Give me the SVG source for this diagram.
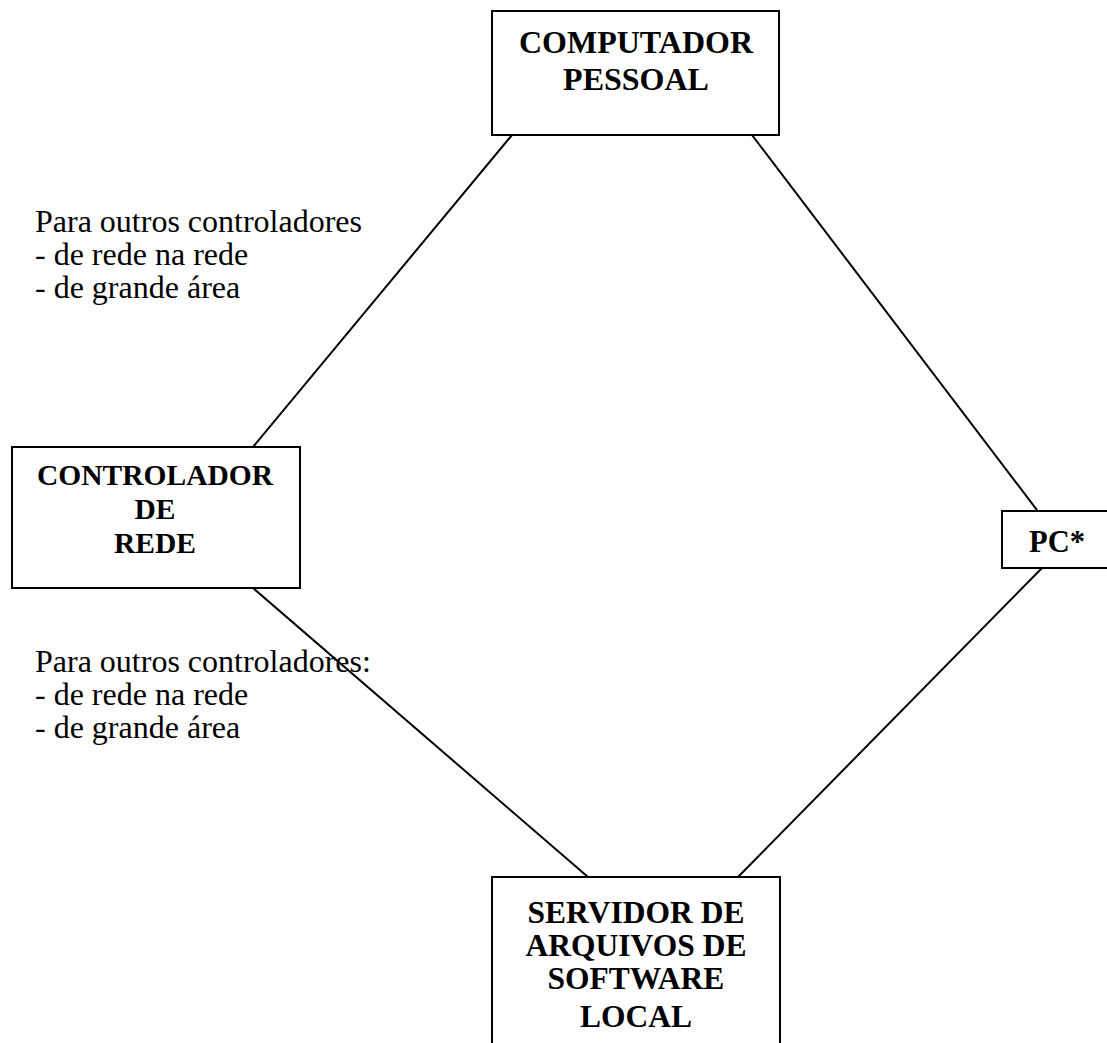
<svg xmlns="http://www.w3.org/2000/svg" width="1107" height="1043" viewBox="0 0 1107 1043">
  <style>
    .box { fill: #ffffff; stroke: #000000; stroke-width: 2; }
    .link { stroke: #000000; stroke-width: 2; fill: none; }
    .title { font-family: "Liberation Serif", "Times New Roman", serif; font-weight: bold; fill: #000000; text-anchor: middle; }
    .note { font-family: "Liberation Serif", "Times New Roman", serif; font-size: 32px; fill: #000000; }
  </style>
  <rect width="1107" height="1043" fill="#ffffff"/>

  <!-- connectors between the four stations -->
  <g id="connectors">
    <line class="link" x1="512" y1="135" x2="253" y2="447"/>
    <line class="link" x1="752" y1="135" x2="1043" y2="518"/>
    <line class="link" x1="253" y1="588" x2="588" y2="877"/>
    <line class="link" x1="1043" y1="567" x2="738" y2="877"/>
  </g>

  <g id="computador-pessoal">
    <rect class="box" x="492" y="11" width="287" height="124"/>
    <text class="title" x="636" y="53" font-size="32">COMPUTADOR</text>
    <text class="title" x="636" y="90" font-size="32">PESSOAL</text>
  </g>

  <g id="controlador-de-rede">
    <rect class="box" x="12" y="447" width="288" height="141"/>
    <text class="title" x="155" y="485" font-size="29.5">CONTROLADOR</text>
    <text class="title" x="155" y="519" font-size="29.5">DE</text>
    <text class="title" x="155" y="553" font-size="29.5">REDE</text>
  </g>

  <g id="pc">
    <rect class="box" x="1002" y="511" width="115" height="57"/>
    <text class="title" x="1057" y="552" font-size="30.5">PC*</text>
  </g>

  <g id="servidor">
    <rect class="box" x="492" y="877" width="288" height="180"/>
    <text class="title" x="636" y="923" font-size="31.5">SERVIDOR DE</text>
    <text class="title" x="636" y="956" font-size="31.5">ARQUIVOS DE</text>
    <text class="title" x="636" y="989" font-size="31.5">SOFTWARE</text>
    <text class="title" x="636" y="1027" font-size="31.5">LOCAL</text>
  </g>

  <g id="note-upper">
    <text class="note" x="35" y="232">Para outros controladores</text>
    <text class="note" x="35" y="265">- de rede na rede</text>
    <text class="note" x="35" y="298">- de grande área</text>
  </g>

  <g id="note-lower">
    <text class="note" x="35" y="672">Para outros controladores:</text>
    <text class="note" x="35" y="705">- de rede na rede</text>
    <text class="note" x="35" y="738">- de grande área</text>
  </g>
</svg>
